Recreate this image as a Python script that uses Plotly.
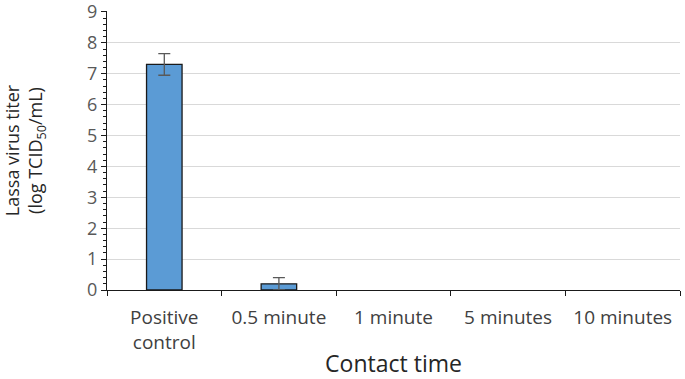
import plotly.graph_objects as go

categories = ["Positive<br>control", "0.5 minute", "1 minute", "5 minutes", "10 minutes"]
titers = [7.3, 0.2, 0, 0, 0]
errors = [0.35, 0.2, 0, 0, 0]
y_ticks = [0, 1, 2, 3, 4, 5, 6, 7, 8, 9]

outline_widths = [1.3 if v > 0 else 0 for v in titers]
err_x = [c for c, e in zip(categories, errors) if e > 0]
err_y = [v for v, e in zip(titers, errors) if e > 0]
err_v = [e for e in errors if e > 0]

fig = go.Figure()
fig.add_trace(go.Bar(
    x=categories, y=titers,
    marker=dict(color="#5B9BD5", line=dict(color="#1a1a1a", width=outline_widths)),
    width=0.31,
))
fig.add_trace(go.Scatter(
    x=err_x, y=err_y, mode="markers", marker=dict(size=0.1, color="rgba(0,0,0,0)"),
    error_y=dict(type="data", array=err_v, visible=True, color="#595959", thickness=1.3, width=6),
))

fig.update_layout(
    width=685, height=379,
    margin=dict(l=107, r=5, t=11, b=89, autoexpand=False),
    plot_bgcolor="white", paper_bgcolor="white",
    showlegend=False,
    font=dict(family="Open Sans, Liberation Sans, sans-serif", color="#404040"),
)
fig.update_xaxes(
    automargin=False,
    showline=True, linecolor="#1a1a1a", linewidth=1.3,
    ticks="outside", tickson="boundaries", ticklen=5, tickcolor="#1a1a1a",
    ticklabelstandoff=10,
    tickfont=dict(size=19, color="#404040"),
    title=dict(text="Contact time", font=dict(size=23, color="#262626"), standoff=14),
)
fig.update_yaxes(
    automargin=False,
    range=[0, 9.03], tickvals=y_ticks, ticklabeloverflow="allow",
    showline=True, linecolor="#1a1a1a", linewidth=1.3,
    ticks="outside", ticklen=5, tickcolor="#1a1a1a",
    minor=dict(dtick=0.2, ticks="outside", ticklen=3, tickcolor="#1a1a1a", showgrid=False),
    showgrid=True, gridcolor="#d9d9d9", gridwidth=1,
    tickfont=dict(size=18, color="#595959"),
    title=dict(text="Lassa virus titer<br>(log TCID<sub>50</sub>/mL)", font=dict(size=18, color="#262626"), standoff=40),
    zeroline=False,
)

fig.write_html("out.html", config={"displayModeBar": False},
               post_script="document.body.style.margin='0';")
